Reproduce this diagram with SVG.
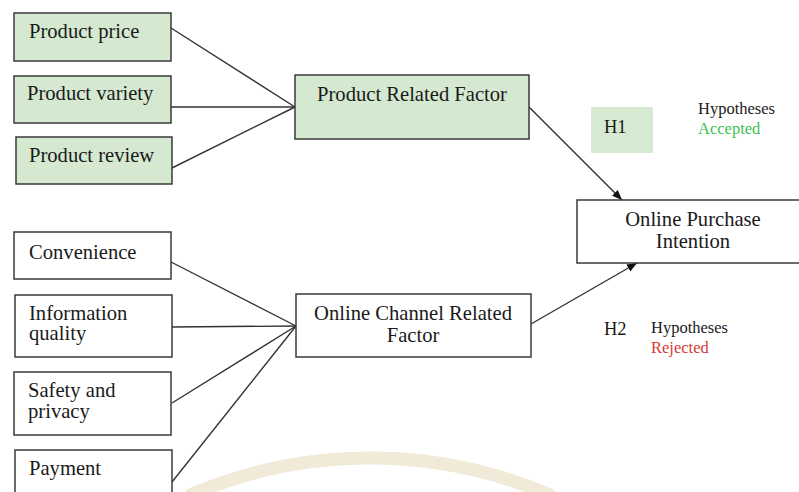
<svg xmlns="http://www.w3.org/2000/svg" width="799" height="492" viewBox="0 0 799 492">
<style>
.box{stroke:#3a3a3a;stroke-width:1.5}
.g{fill:#d5e8d0}
.w{fill:#ffffff}
.t{font-family:"Liberation Serif","Times New Roman",serif;font-size:20.6px;fill:#1a1a1a}
.c{text-anchor:middle}
.s{font-family:"Liberation Serif","Times New Roman",serif;font-size:16.5px;fill:#1a1a1a}
.ln{stroke:#333;stroke-width:1.4;fill:none}
</style>
<defs>
<marker id="ah" viewBox="0 0 10 10" refX="10" refY="5" markerWidth="10" markerHeight="10" markerUnits="userSpaceOnUse" orient="auto">
<path d="M0,1 L10,5 L0,9 Z" fill="#111"/>
</marker>
</defs>
<rect width="799" height="492" fill="#ffffff"/>
<path d="M188,496 A456,456 0 0 1 552,496" fill="none" stroke="#f1ead9" stroke-width="13"/>
<g id="connectors">
<line class="ln" x1="171" y1="28" x2="295" y2="107"/>
<line class="ln" x1="171" y1="107" x2="295" y2="107"/>
<line class="ln" x1="172" y1="168" x2="295" y2="107"/>
<line class="ln" x1="171" y1="262" x2="296" y2="326"/>
<line class="ln" x1="172" y1="327" x2="296" y2="326"/>
<line class="ln" x1="172" y1="403" x2="296" y2="326"/>
<line class="ln" x1="172" y1="482" x2="296" y2="326"/>
<line class="ln" x1="529" y1="107" x2="622" y2="200" marker-end="url(#ah)"/>
<line class="ln" x1="531" y1="324" x2="637" y2="263" marker-end="url(#ah)"/>
</g>
<g id="product-price"><rect class="box g" x="14" y="13" width="157" height="48"/><text class="t" x="29" y="38">Product price</text></g>
<g id="product-variety"><rect class="box g" x="14" y="76" width="157" height="47"/><text class="t" x="27" y="100">Product variety</text></g>
<g id="product-review"><rect class="box g" x="16" y="137" width="156" height="47"/><text class="t" x="29" y="162">Product review</text></g>
<g id="product-related-factor"><rect class="box g" x="295" y="75" width="234" height="64"/><text class="t c" x="412" y="101">Product Related Factor</text></g>
<g id="h1"><rect x="591" y="107" width="62" height="46" fill="#d6e9d1"/><text class="t" x="604" y="133" style="font-size:18.5px">H1</text></g>
<g id="h1-label"><text class="s" x="698" y="114">Hypotheses</text><text class="s" x="698" y="134" style="fill:#3fbf55">Accepted</text></g>
<g id="online-purchase-intention"><rect class="box w" x="577" y="200" width="230" height="63"/><text class="t c" x="693" y="226">Online Purchase</text><text class="t c" x="693" y="248">Intention</text></g>
<g id="convenience"><rect class="box w" x="14" y="232" width="157" height="47"/><text class="t" x="29" y="259">Convenience</text></g>
<g id="information-quality"><rect class="box w" x="15" y="295" width="157" height="62"/><text class="t" x="29" y="320">Information</text><text class="t" x="29" y="340">quality</text></g>
<g id="safety-privacy"><rect class="box w" x="14" y="372" width="157" height="63"/><text class="t" x="28" y="397">Safety and</text><text class="t" x="28" y="418">privacy</text></g>
<g id="payment"><rect class="box w" x="15" y="450" width="157" height="50"/><text class="t" x="29" y="475">Payment</text></g>
<g id="online-channel-related-factor"><rect class="box w" x="296" y="294" width="235" height="63"/><text class="t c" x="413" y="320">Online Channel Related</text><text class="t c" x="413" y="342">Factor</text></g>
<g id="h2"><text class="t" x="604" y="335" style="font-size:18.5px">H2</text></g>
<g id="h2-label"><text class="s" x="651" y="333">Hypotheses</text><text class="s" x="651" y="353" style="fill:#d63a32">Rejected</text></g>
</svg>
